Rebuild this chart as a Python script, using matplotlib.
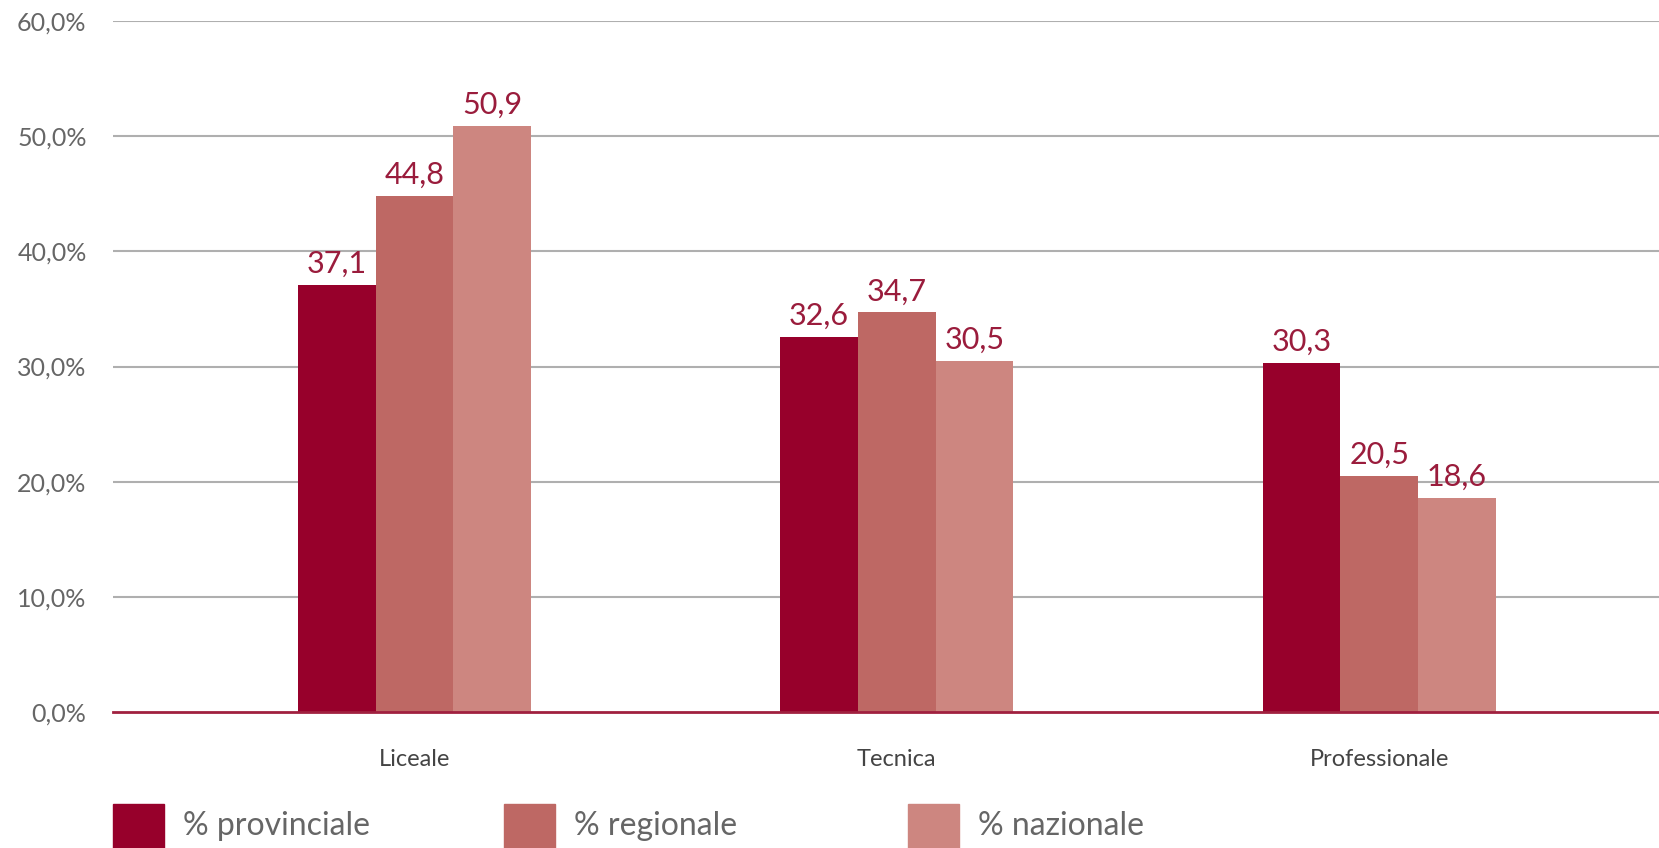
import matplotlib
matplotlib.use("Agg")
import matplotlib.pyplot as plt
import numpy as np
from matplotlib.patches import Rectangle

categories = ["Liceale", "Tecnica", "Professionale"]
series_names = ["% provinciale", "% regionale", "% nazionale"]
provinciale = [37.1, 32.6, 30.3]
regionale = [44.8, 34.7, 20.5]
nazionale = [50.9, 30.5, 18.6]
yticks = [0, 10, 20, 30, 40, 50, 60]

colors = ["#97002B", "#BE6864", "#CD8680"]
label_color = "#9A1C3C"

plt.rcParams['font.family'] = ['Lato', 'DejaVu Sans']

fig = plt.figure(figsize=(16.59, 8.48), dpi=100)
ax = fig.add_axes([113/1659, 136/848, 1 - 113/1659, (827-136)/848])

x = np.arange(len(categories))
w = 0.161
for i, (vals, c) in enumerate(zip([provinciale, regionale, nazionale], colors)):
    pos = x + (i - 1) * w
    ax.bar(pos, vals, width=w, color=c, zorder=3)
    for p, v in zip(pos, vals):
        ax.annotate(f"{v:.1f}".replace(".", ","), (p, v), xytext=(0, 5),
                    textcoords="offset points", ha="center", va="bottom",
                    fontsize=22, color=label_color)

ax.set_xlim(-0.625, 2.58)
ax.set_ylim(0, 60)
ax.set_yticks(yticks)
ax.set_yticklabels([f"{t:.1f}".replace(".", ",") + "%" for t in yticks],
                   fontsize=18, color="#666666")
ax.set_xticks(x)
ax.set_xticklabels(categories, fontsize=17, color="#444444")
ax.tick_params(axis="y", length=0, pad=19)
ax.tick_params(axis="x", length=0, pad=27)
ax.grid(axis="y", color="#AFAFAF", lw=1.5, zorder=0)
for s in ["top", "right", "left"]:
    ax.spines[s].set_visible(False)
ax.spines["bottom"].set_color("#A0203F")
ax.spines["bottom"].set_linewidth(2)
ax.spines["bottom"].set_zorder(4)
ax.yaxis.get_gridlines()[0].set_visible(False)

# legend
leg_x = [113, 504, 908]
for lx, c, name in zip(leg_x, colors, series_names):
    fig.patches.append(Rectangle((lx/1659, 0), 51/1659, 44/848,
                                 transform=fig.transFigure, color=c))
    fig.text((lx + 70)/1659, 22/848, name, fontsize=23, color="#666666",
             va="center", ha="left")

fig.savefig("out.png", dpi=100)
